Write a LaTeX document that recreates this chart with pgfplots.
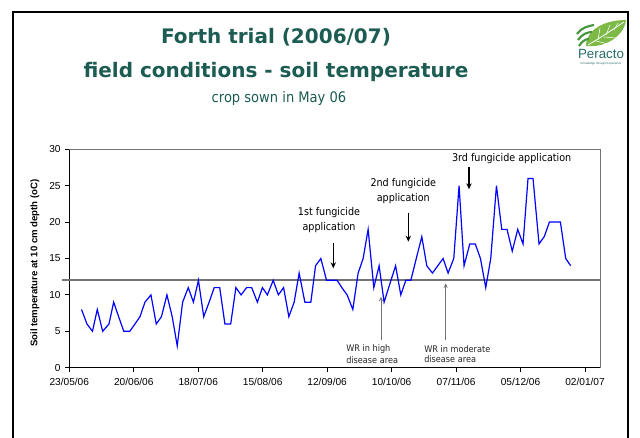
\documentclass[border=0pt]{standalone}
\usepackage{fontspec}
\setmainfont{Liberation Sans}
\newfontfamily\titlefont{DejaVu Sans}
\newfontfamily\condfont{DejaVu Sans Condensed}
\usepackage{pgfplots}
\pgfplotsset{compat=1.18}
\usetikzlibrary{arrows.meta}
\definecolor{titleteal}{RGB}{28,92,82}
\definecolor{linegray}{RGB}{115,115,115}
\definecolor{leafgreen}{RGB}{125,185,70}
\definecolor{leafdark}{RGB}{70,150,60}
\definecolor{logoteal}{RGB}{40,110,100}

\begin{document}
\begin{tikzpicture}
\useasboundingbox (0,0) rectangle (480pt,328.5pt);
\fill[white] (0,0) rectangle (480pt,328.5pt);

\begin{axis}[
  at={(51.975pt,52.725pt)}, anchor=south west,
  scale only axis, width=398pt, height=163.8pt,
  xmin=0, xmax=230.5, ymin=0, ymax=30,
  axis lines=left, axis line style={-, black, line width=0.6pt},
  clip=false,
  xtick={0,28,56,84,112,140,168,196,224},
  xticklabels={23/05/06,20/06/06,18/07/06,15/08/06,12/09/06,10/10/06,07/11/06,05/12/06,02/01/07},
  ytick={0,5,10,15,20,25,30},
  tick align=outside, major tick length=3pt,
  tick style={black, line width=0.6pt},
  /pgf/number format/assume math mode=true,
  ticklabel style={font=\fontsize{7.6}{9}\selectfont},
  xticklabel style={yshift=-1pt},
  ylabel={Soil temperature at 10 cm depth (oC)},
  ylabel style={font=\bfseries\fontsize{7.2}{8}\selectfont, at={(axis description cs:-0.0646,0.479)}, anchor=center},
]
\draw[linegray, line width=0.6pt] (rel axis cs:0,1) -- (rel axis cs:1,1) -- (rel axis cs:1,0);
\addplot[linegray, line width=1.3pt] coordinates {(-3.2,12) (230.5,12)};
\addplot[blue, line width=0.9pt] coordinates {
(5.30,8) (7.68,6) (10.07,5) (12.15,8) (14.50,5) (17.23,6) (19.27,9) (21.44,7)
(23.66,5) (26.26,5) (28.52,6) (30.69,7) (32.86,9) (35.47,10) (37.77,6) (40.02,7)
(42.41,10) (44.71,7) (46.88,3) (49.23,9) (51.66,11) (53.92,9) (56.09,12) (58.39,7)
(60.73,9) (62.95,11) (65.33,11) (67.59,6) (70.11,6) (72.36,11) (74.62,10) (77.01,11)
(79.22,11) (81.70,9) (83.87,11) (86.04,10) (88.56,12) (90.81,10) (93.07,11) (95.37,7)
(97.67,9) (99.84,13) (102.32,9) (104.92,9) (106.96,14) (109.26,15) (111.74,12) (114.04,12)
(116.34,12) (118.38,11) (120.68,10) (123.15,8) (125.46,13) (127.63,15) (129.80,19) (132.27,11)
(134.57,14) (136.74,9) (139.22,11.5) (141.73,14) (143.99,10) (146.16,12) (148.33,12) (150.72,15)
(153.11,18) (155.28,14) (157.75,13) (160.05,14) (162.36,15) (164.53,13) (167.00,15) (169.30,25)
(171.47,14) (173.95,17) (176.33,17) (178.59,15) (180.89,11) (183.06,15) (185.54,25) (187.84,19)
(190.14,19) (192.40,16) (194.78,19) (197.08,17) (199.25,26) (201.42,26) (204.03,17) (206.29,18)
(208.54,20) (210.84,20) (213.32,20) (215.62,15) (217.79,14)
};
\end{axis}

\begin{scope}[shift={(0,328.5pt)}, x=0.75pt, y=-0.75pt]
% slide frame
\draw[black, line width=2pt] (13,440) -- (13,12) -- (628,12) -- (628,440);
% titles
\node[text=titleteal, font=\titlefont\bfseries\fontsize{15}{18}\selectfont] at (276,37.5) {Forth trial (2006/07)};
\node[text=titleteal, font=\titlefont\bfseries\fontsize{15}{18}\selectfont] at (276,72) {field conditions - soil temperature};
\node[text=titleteal, font=\condfont\fontsize{10.9}{12}\selectfont] at (279,98) {crop sown in May 06};
% logo
\fill[leafgreen] (586,46) .. controls (586,30) and (604,20) .. (626,20) .. controls (624,36) and (606,48) .. (586,46) -- cycle;
\draw[white, line width=0.6pt] (588,45) .. controls (600,38) and (612,30) .. (624,22);
\draw[white, line width=0.4pt] (598,40) -- (600,28) (606,35) -- (610,25) (614,30) -- (618,23) (596,41) -- (608,44) (604,37) -- (616,38);
\draw[leafdark, line width=1.6pt] (577,34) .. controls (581,28) and (588,26) .. (594,25);
\draw[leafdark, line width=1.6pt] (578,40) .. controls (582,34) and (588,32) .. (592,32);
\draw[leafdark, line width=1.6pt] (579,46) .. controls (582,41) and (586,39) .. (589,39);
\node[text=logoteal, font=\fontsize{10}{11}\selectfont, inner sep=0pt] at (601,54) {Peracto};
\node[text=logoteal, font=\fontsize{2.2}{3}\selectfont, inner sep=0pt] at (601,64) {Knowledge through Experience};
% annotations
\begin{scope}[every node/.style={font=\condfont\fontsize{8}{9}\selectfont, inner sep=0pt}]
\node at (329,212.3) {1st fungicide};
\node at (329,227.3) {application};
\draw[-{Stealth[length=4.5pt,width=4pt]}, line width=0.9pt] (333.3,243.3) -- (333.3,268.3);
\node at (403.3,183.3) {2nd fungicide};
\node at (403.3,198.3) {application};
\draw[-{Stealth[length=4.5pt,width=4pt]}, line width=0.9pt] (408.3,213.3) -- (408.3,241.7);
\node at (511.7,159) {3rd fungicide application};
\draw[-{Stealth[length=4.5pt,width=4pt]}, line width=0.9pt] (469,167.3) -- (469,189.3);
\end{scope}
\begin{scope}[every node/.style={font=\condfont\fontsize{6.8}{7.5}\selectfont, inner sep=0pt, anchor=west, text=black!85}]
\node at (346,349.3) {WR in high};
\node at (346,360.5) {disease area};
\draw[-{Stealth[length=3.5pt,width=3pt]}, linegray, line width=0.5pt] (381,340) -- (381,296.7);
\node at (424,348.7) {WR in moderate};
\node at (424,359.5) {disease area};
\draw[-{Stealth[length=3.5pt,width=3pt]}, linegray, line width=0.5pt] (445.7,340) -- (445.7,283.3);
\end{scope}
\end{scope}
\end{tikzpicture}
\end{document}
